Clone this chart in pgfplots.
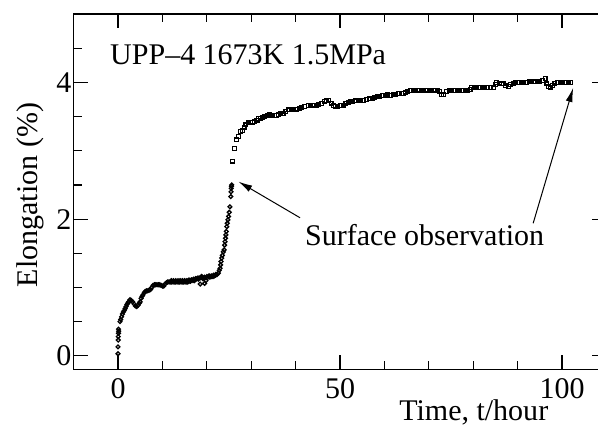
\documentclass[border=0pt]{standalone}
\usepackage{fontspec}
\setmainfont{Liberation Serif}
\usepackage{pgfplots}
\pgfplotsset{compat=1.18}
\usetikzlibrary{arrows.meta}
\begin{document}
\begin{tikzpicture}
\begin{axis}[
  scale only axis,
  width=532.8pt, height=355.2pt,
  xmin=-10, xmax=110, ymin=-0.2, ymax=5,
  xtick={0,50,100}, minor xtick={-10,10,20,30,40,60,70,80,90,110},
  ytick={0,2,4}, minor ytick={-0.5,0.5,1,1.5,2.5,3,3.5,4.5},
  major tick length=14pt, minor tick length=8pt,
  axis line style={line width=1.5pt},
  every tick/.style={line width=1.1pt, black},
  tick align=inside,
  font=\fontsize{30}{36}\selectfont,
  /pgf/number format/assume math mode=true,
  yticklabel style={inner sep=2pt},
  xticklabel style={inner sep=9pt},
  xlabel={Time, t/hour},
  xlabel style={at={(axis description cs:0.751,-0.1425)}, anchor=base, inner sep=0pt},
  ylabel={Elongation (\%)},
  ylabel style={at={(axis description cs:-0.0687,0.491)}, anchor=base, inner sep=0pt},
  clip=false,
]
\addplot[only marks, mark=o, mark size=1.9pt, mark options={line width=1.3pt}] coordinates {
(0,0.03) (0,0.13) (0.05,0.23) (0.05,0.28) (0.1,0.33) (0.1,0.39) (0.15,0.36)
(0.45,0.50) (0.6,0.53) (0.8,0.57) (1.0,0.61) (1.2,0.64) (1.4,0.66) (1.6,0.69) (1.8,0.72)
(2.0,0.75) (2.2,0.77) (2.4,0.79) (2.7,0.82) (3.0,0.81) (3.3,0.79) (3.6,0.76) (3.9,0.73)
(4.2,0.72) (4.5,0.74) (4.8,0.77) (5.0,0.79) (5.2,0.84) (5.4,0.87) (5.6,0.89) (5.9,0.92)
(6.1,0.94) (6.4,0.95) (6.7,0.95) (7.0,0.96) (7.3,0.97) (7.6,1.00) (7.9,1.03) (8.2,1.04)
(8.5,1.04) (8.8,1.04) (9.1,1.04) (9.4,1.04) (9.7,1.03) (10.0,1.02) (10.3,1.02) (10.6,1.05)
(10.9,1.07) (11.2,1.08) (11.5,1.08) (11.8,1.08) (12.1,1.08) (12.4,1.08) (12.7,1.08)
(13.0,1.08) (13.3,1.08) (13.6,1.08) (13.9,1.08) (14.2,1.08) (14.5,1.08) (14.8,1.08)
(15.1,1.08) (15.4,1.08) (15.7,1.08) (16.0,1.09) (16.3,1.09) (16.6,1.11) (16.9,1.10)
(12.0,1.10) (12.5,1.10) (13.0,1.10) (13.5,1.10) (14.0,1.10) (14.5,1.10) (15.0,1.10)
(15.5,1.10) (16.0,1.11) (16.5,1.11) (17.0,1.12) (17.5,1.13) (18.0,1.14) (18.5,1.14)
(19.0,1.15) (19.5,1.15) (20.0,1.16) (20.5,1.17) (21.0,1.17) (21.5,1.18) (22.0,1.19)
(17.2,1.10) (17.5,1.12) (17.8,1.13) (18.1,1.12) (18.5,1.05) (18.8,1.16) (19.1,1.13)
(19.5,1.06) (19.8,1.10) (20.1,1.14) (20.4,1.16) (20.7,1.15) (21.1,1.16) (21.4,1.16)
(21.7,1.17) (22.0,1.18) (22.3,1.19) (22.6,1.21) (22.8,1.25) (22.97,1.28) (23.1,1.33)
(23.2,1.38) (23.35,1.43) (23.5,1.47) (23.7,1.52) (23.9,1.55) (24.0,1.62) (24.1,1.67)
(24.2,1.72) (24.3,1.77) (24.4,1.82) (24.5,1.89) (24.6,1.94) (24.75,1.99) (24.9,2.04)
(25.05,2.1) (25.2,2.18) (25.4,2.33) (25.45,2.4) (25.5,2.45) (25.55,2.48) (25.6,2.50)
};
\addplot[only marks, mark=square, mark size=1.9pt, mark options={line width=1.2pt}] coordinates {
(25.8,2.85) (26.2,3.03) (26.7,3.16) (27.1,3.21) (27.6,3.28) (28.0,3.30) (28.4,3.34)
(28.8,3.38) (29.3,3.41) (29.8,3.42) (30.3,3.42) (30.8,3.43) (31.3,3.45) (31.6,3.47)
(32.0,3.48) (32.5,3.49) (33.1,3.50) (33.6,3.51) (34.2,3.53) (34.7,3.52) (35.2,3.52)
(35.7,3.52) (36.2,3.53) (36.7,3.54) (37.2,3.55) (37.8,3.58) (38.4,3.60) (39.0,3.60)
(39.6,3.61) (40.2,3.61) (40.8,3.62) (41.4,3.63) (42.1,3.65) (42.8,3.66) (43.4,3.66)
(44.0,3.67) (44.6,3.67) (45.2,3.68) (45.9,3.69) (46.5,3.72) (47.0,3.74) (47.5,3.74)
(48.0,3.70) (48.5,3.66) (49.0,3.65) (49.5,3.65) (50.0,3.66) (50.7,3.67) (51.3,3.69)
(51.8,3.71) (52.3,3.72) (52.9,3.72) (53.5,3.73) (54.1,3.73) (54.7,3.74) (55.3,3.74)
(56.0,3.75) (56.6,3.76) (57.2,3.77) (57.8,3.78) (58.4,3.79) (59.0,3.80) (59.6,3.81)
(60.2,3.81) (60.8,3.82) (61.4,3.81) (62.0,3.82) (62.6,3.83) (63.2,3.84) (63.8,3.84)
(64.3,3.84) (64.8,3.86) (65.3,3.87) (65.8,3.88) (66.5,3.89) (67.1,3.89) (67.7,3.89)
(68.3,3.89) (68.9,3.89) (69.5,3.89) (70.1,3.89) (70.7,3.89) (71.3,3.89) (71.9,3.88)
(72.5,3.87) (72.9,3.82) (73.3,3.82) (74.0,3.87) (74.6,3.88) (75.2,3.88) (75.8,3.88)
(76.4,3.88) (77.0,3.88) (77.6,3.88) (78.2,3.88) (78.8,3.88) (79.3,3.90) (79.6,3.93)
(80.2,3.93) (80.8,3.93) (81.4,3.93) (82.0,3.93) (82.6,3.93) (83.2,3.93) (83.8,3.93)
(84.5,3.93) (85.0,3.97) (85.3,4.00) (85.9,3.99) (86.4,3.98) (86.8,3.98) (87.3,3.95)
(87.9,3.94) (88.4,3.97) (89.0,3.99) (89.6,4.00) (90.2,4.00) (90.8,4.00) (91.4,4.00)
(92.0,4.00) (92.6,4.01) (93.2,4.01) (93.8,4.01) (94.4,4.01) (95.0,4.02) (95.6,4.03)
(96.2,4.06) (96.6,3.98) (96.9,3.94) (97.3,3.92) (97.8,3.96) (98.4,3.99) (99.0,4.00)
(99.6,4.00) (100.2,4.00) (100.8,4.00) (101.4,4.00) (102.0,4.00)
};
\node[anchor=base west, inner sep=0pt] at (axis cs:-1.8,4.27) {UPP–4 1673K 1.5MPa};
\node[anchor=base west, inner sep=0pt] at (axis cs:42.1,1.62) {Surface observation};
\draw[line width=1pt, -{Latex[length=14pt,width=7pt]}] (axis cs:41.0,2.02) -- (axis cs:27.1,2.55);
\draw[line width=1pt, -{Latex[length=14pt,width=7pt]}] (axis cs:93.5,1.94) -- (axis cs:102.5,3.92);
\coordinate (BL) at (axis cs:-26.58,-1.015);
\coordinate (TR) at (axis cs:108.1,5.208);
\end{axis}
\pgfresetboundingbox
\useasboundingbox (BL) rectangle (TR);
\end{tikzpicture}
\end{document}
